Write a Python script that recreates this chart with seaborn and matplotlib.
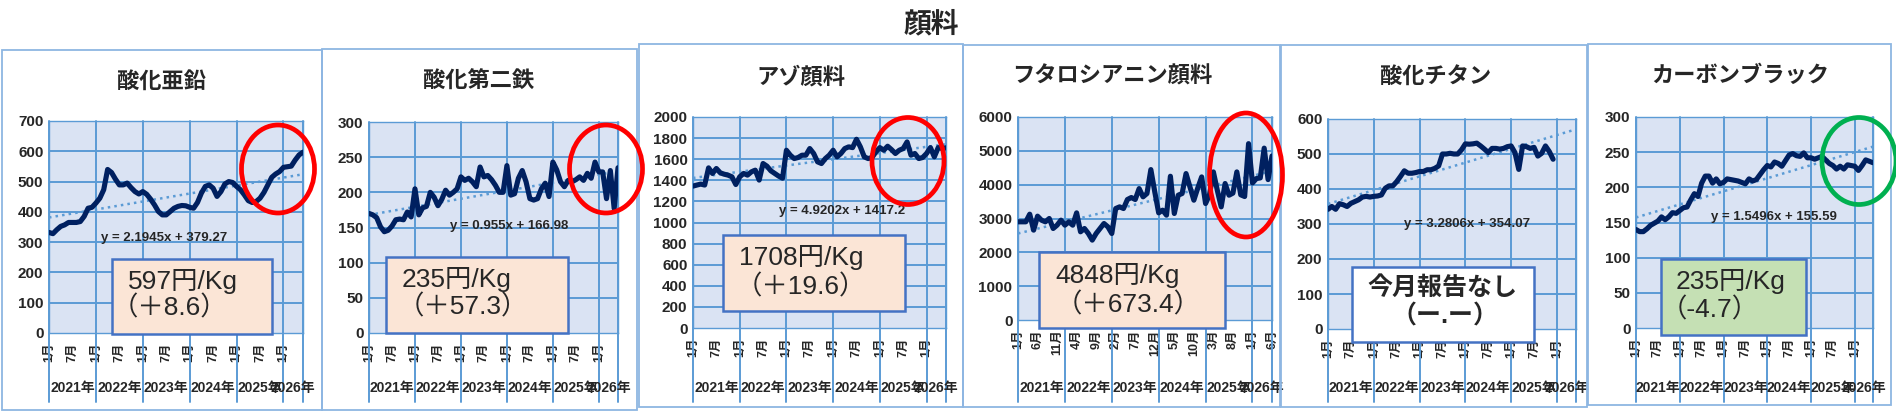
import matplotlib
matplotlib.use("Agg")
import matplotlib.pyplot as plt
from matplotlib.patches import Ellipse, Rectangle
import numpy as np
import pandas as pd
import seaborn as sns

W, H = 1896, 412

years = ["2021年", "2022年", "2023年", "2024年", "2025年", "2026年"]
month_names = ["1月", "2月", "3月", "4月", "5月", "6月",
               "7月", "8月", "9月", "10月", "11月", "12月"]

# monthly prices (円/Kg), Jan 2021 onward
zinc = [332, 328, 341, 352, 357, 365, 365, 365, 368, 385, 412, 415,
        429, 445, 473, 540, 530, 508, 489, 489, 495, 480, 467, 459,
        467, 458, 442, 423, 401, 390, 390, 401, 412, 418, 421, 420,
        415, 412, 431, 462, 484, 489, 478, 451, 467, 492, 500, 497,
        484, 473, 456, 437, 431, 434, 445, 464, 489, 514, 525, 533,
        547, 549, 551, 571, 588, 597]
iron = [170, 168, 164, 151, 144, 146, 152, 161, 162, 161, 172, 165,
        205, 168, 178, 180, 200, 193, 181, 190, 203, 196, 200, 205,
        222, 217, 220, 215, 208, 236, 222, 224, 218, 210, 200, 200,
        238, 196, 198, 220, 231, 215, 191, 189, 191, 205, 213, 194,
        243, 232, 215, 208, 217, 215, 218, 222, 217, 227, 220, 243,
        229, 229, 191, 231, 177, 235]
azo = [1345, 1355, 1364, 1355, 1518, 1465, 1512, 1471, 1458, 1449, 1433, 1360,
       1433, 1465, 1449, 1480, 1496, 1402, 1559, 1534, 1490, 1465, 1440, 1420,
       1685, 1638, 1606, 1616, 1638, 1638, 1701, 1654, 1575, 1559, 1606, 1638,
       1685, 1622, 1654, 1701, 1717, 1710, 1789, 1717, 1622, 1606, 1616, 1670,
       1710, 1685, 1723, 1691, 1654, 1685, 1701, 1764, 1638, 1654, 1606, 1616,
       1654, 1710, 1622, 1710, 1701, 1708]
phthalo = [2902, 2902, 2902, 3128, 2656, 3069, 2951, 2902, 3000, 2705, 2803, 2951,
           2803, 2902, 2803, 3167, 2607, 2705, 2557, 2361, 2557, 2705, 2852, 2754,
           2557, 3295, 3344, 3295, 3561, 3620, 3561, 3885, 3640, 3738, 4446, 3787,
           3167, 3246, 3098, 4249, 3148, 3689, 3738, 4328, 3934, 3541, 3900, 4229,
           3443, 3700, 4377, 3836, 3344, 4033, 3688, 3750, 4377, 3700, 3650, 5213,
           4050, 4180, 4200, 5080, 4150, 4848]
titanium = [342, 350, 342, 358, 355, 350, 359, 364, 369, 377, 379, 377,
            379, 380, 383, 402, 409, 409, 421, 436, 452, 445, 445, 447,
            450, 450, 455, 455, 459, 466, 500, 500, 502, 500, 500, 512,
            529, 528, 529, 531, 523, 514, 504, 516, 516, 514, 516, 521,
            523, 504, 456, 523, 521, 516, 519, 494, 502, 523, 507, 485]
carbon = [140, 137, 137, 141, 146, 149, 152, 158, 154, 158, 164, 163,
          167, 171, 172, 182, 191, 187, 206, 216, 216, 206, 212, 205,
          207, 212, 211, 210, 209, 207, 205, 212, 209, 211, 218, 225,
          231, 229, 236, 234, 230, 238, 246, 248, 245, 244, 249, 242,
          242, 240, 242, 244, 239, 234, 231, 226, 230, 226, 232, 231,
          230, 224, 231, 239, 237, 235]

titles = ["酸化亜鉛", "酸化第二鉄", "アゾ顔料", "フタロシアニン顔料", "酸化チタン", "カーボンブラック"]
series = [zinc, iron, azo, phthalo, titanium, carbon]
slopes = [2.1945, 0.955, 4.9202, 28.4, 3.2806, 1.5496]
intercepts = [379.27, 166.98, 1417.2, 2529.0, 354.07, 155.59]
equations = ["y = 2.1945x + 379.27", "y = 0.955x + 166.98", "y = 4.9202x + 1417.2",
             None, "y = 3.2806x + 354.07", "y = 1.5496x + 155.59"]
ymax = [700, 300, 2000, 6000, 600, 300]
ystep = [100, 50, 200, 1000, 100, 50]
tick_step = [6, 6, 6, 5, 6, 6]
price_text = ["597円/Kg", "235円/Kg", "1708円/Kg", "4848円/Kg", "今月報告なし", "235円/Kg"]
change_text = ["（＋8.6）", "（＋57.3）", "（＋19.6）", "（＋673.4）", "（ー.ー）", "（-4.7）"]
n_months = 66

# layout in pixels
frames = [(2, 50, 322, 410), (322, 49, 637, 410), (639, 44, 963, 407),
          (963, 45, 1280, 407), (1281, 45, 1587, 407), (1588, 44, 1891, 405)]
plot_px = [(49, 121, 303, 333), (369, 122, 618, 333), (693, 117, 946, 328),
           (1018, 117, 1272, 320), (1328, 119, 1576, 329), (1636, 117, 1873, 328)]
title_xy = [(161, 81), (479, 81), (801, 77), (1112, 76), (1436, 77), (1740, 75)]
eq_xy = [(164, 238), (509, 226), (842, 211), None, (1467, 224), (1774, 217)]
box_px = [(112, 259, 272, 334), (386, 257, 568, 333), (723, 235, 905, 311),
          (1039, 252, 1225, 328), (1352, 267, 1534, 342), (1661, 259, 1806, 335)]
box_fill = ["#FBE5D6", "#FBE5D6", "#FBE5D6", "#FBE5D6", "#FFFFFF", "#C5E0B4"]
line1_xy = [(128, 282), (402, 280), (739, 258), (1055, 276), (1442, 288), (1676, 282)]
line2_xy = [(112, 308), (398, 307), (736, 287), (1056, 305), (1445, 317), (1661, 310)]
ellipses = [(278, 169, 73, 88, "#FF0000"), (606, 169, 73, 88, "#FF0000"),
            (908, 161, 72, 87, "#FF0000"), (1246, 175, 73, 124, "#FF0000"),
            (1859, 161, 74, 87, "#00B050")]

sns.set_theme(style="white")
plt.rcParams['font.family'] = ['Liberation Sans', 'Noto Sans CJK JP']

navy = "#002060"
blue = "#5B9BD5"
frame_col = "#8DB6E2"

fig = plt.figure(figsize=(W / 100, H / 100), dpi=100)


def fx(x):
    return x / W


def fy(y):
    return 1 - y / H


fig.text(fx(931), fy(24), "顔料", ha="center", va="center", fontsize=20,
         fontweight="bold", family=['Noto Sans CJK JP'])

for k in range(6):
    l, t, r, b = frames[k]
    fig.add_artist(Rectangle((fx(l), fy(b)), (r - l) / W, (b - t) / H,
                             transform=fig.transFigure, fill=False,
                             edgecolor=frame_col, lw=1.3, zorder=0.5))

    pl, pt, pr, pb = plot_px[k]
    ax = fig.add_axes([fx(pl), fy(pb), (pr - pl) / W, (pb - pt) / H])
    ax.set_facecolor("#DAE3F3")
    for sp in ax.spines.values():
        sp.set_color(blue)
        sp.set_linewidth(1.0)

    vals = series[k]
    df = pd.DataFrame({"idx": np.arange(len(vals)), "price": vals})
    xs = np.arange(n_months)
    trend = pd.DataFrame({"idx": xs, "fit": slopes[k] * (xs + 1) + intercepts[k]})

    ax.set_ylim(0, ymax[k])
    ax.set_xlim(0, n_months - 1)
    yt = np.arange(0, ymax[k] + 1, ystep[k])
    ax.set_yticks(yt)
    ax.set_yticklabels([str(v) for v in yt], fontsize=11, fontweight="bold")
    for v in yt[1:-1]:
        ax.axhline(v, color=blue, lw=1.4, zorder=1)

    # year separators, running below the axis
    bounds = [0, 12, 24, 36, 48, 60, n_months - 1]
    h_px = pb - pt
    low = -(402 - pb) / h_px
    for bx in bounds:
        ax.plot([bx, bx], [1, low], transform=ax.get_xaxis_transform(),
                color=blue, lw=1.4, clip_on=False, zorder=1)
    for j, yr in enumerate(years):
        cx = (bounds[j] + bounds[j + 1]) / 2
        ax.text(cx, -(388 - pb) / h_px, yr, transform=ax.get_xaxis_transform(),
                ha="center", va="center", fontsize=10, fontweight="bold")

    sns.lineplot(data=trend, x="idx", y="fit", ax=ax, color=blue, lw=1.8,
                 linestyle=":", zorder=2)
    sns.lineplot(data=df, x="idx", y="price", ax=ax, color=navy, lw=3.7,
                 zorder=3, solid_joinstyle="round", solid_capstyle="round")

    ticks = list(range(0, n_months, tick_step[k]))
    ax.set_xticks(ticks)
    ax.set_xticklabels([month_names[i % 12] for i in ticks], rotation=90,
                       fontsize=9, fontweight="bold")
    ax.tick_params(axis="x", length=0, pad=7)
    ax.tick_params(axis="y", length=0, pad=4)
    ax.set_xlabel("")
    ax.set_ylabel("")

    fig.text(fx(title_xy[k][0]), fy(title_xy[k][1]), titles[k], ha="center",
             va="center", fontsize=16, fontweight="bold", family=['Noto Sans CJK JP'])
    if eq_xy[k] is not None:
        fig.text(fx(eq_xy[k][0]), fy(eq_xy[k][1]), equations[k], ha="center",
                 va="center", fontsize=9.5, fontweight="bold", color="#262626")

    bl, bt, br, bb = box_px[k]
    fig.add_artist(Rectangle((fx(bl), fy(bb)), (br - bl) / W, (bb - bt) / H,
                             transform=fig.transFigure, facecolor=box_fill[k],
                             edgecolor="#4472C4", lw=1.8, zorder=3))
    if k == 4:
        fig.text(fx(line1_xy[k][0]), fy(line1_xy[k][1]), price_text[k], ha="center",
                 va="center", fontsize=18, fontweight="bold", zorder=4)
        fig.text(fx(line2_xy[k][0]), fy(line2_xy[k][1]), change_text[k], ha="center",
                 va="center", fontsize=18, fontweight="bold", zorder=4)
    else:
        fig.text(fx(line1_xy[k][0]), fy(line1_xy[k][1]), price_text[k], ha="left",
                 va="center", fontsize=19, zorder=4)
        fig.text(fx(line2_xy[k][0]), fy(line2_xy[k][1]), change_text[k], ha="left",
                 va="center", fontsize=19, zorder=4)

for cx, cy, ew, eh, col in ellipses:
    fig.add_artist(Ellipse((fx(cx), fy(cy)), ew / W, eh / H, transform=fig.transFigure,
                           fill=False, edgecolor=col, lw=3.4, zorder=5))

fig.savefig("out.png", dpi=100)
